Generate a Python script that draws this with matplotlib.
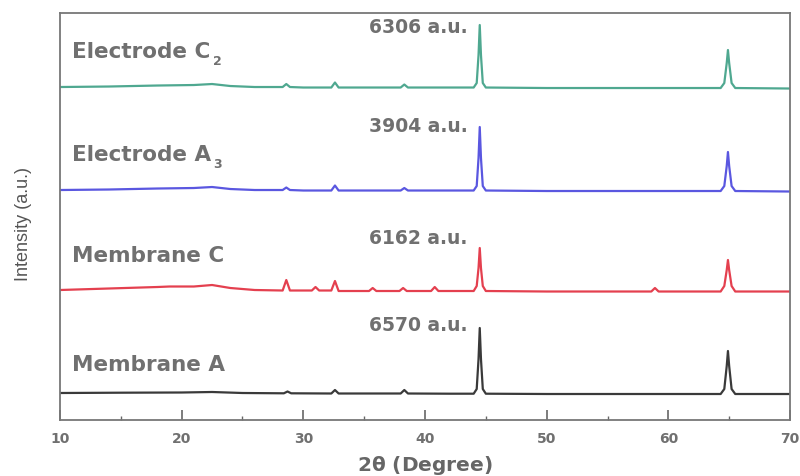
import matplotlib
matplotlib.use('Agg')
import matplotlib.pyplot as plt
from matplotlib.ticker import MultipleLocator

# XRD traces, intensity above each trace's own baseline (arbitrary units)
x_c2 = [10, 14, 18, 21, 22.5, 24, 26, 28.3, 28.6, 28.9, 30, 32.3, 32.6, 32.9, 35,
        38.0, 38.3, 38.6, 42, 44.0, 44.25, 44.4, 44.5, 44.6, 44.75, 45.0, 50, 55,
        60, 64.3, 64.6, 64.8, 64.9, 65.0, 65.2, 65.5, 70]
y_c2 = [0, 0.5, 1.5, 2, 3, 1, 0, 0, 3, 0, -0.5, -0.5, 4.5, -0.5, -0.5,
        -0.5, 2.5, -0.5, -0.5, -0.5, 4, 32, 62, 32, 4, -0.5, -1, -1,
        -1, -1, 4, 24, 37, 24, 4, -1, -1.5]

x_a3 = [10, 14, 18, 21, 22.5, 24, 26, 28.3, 28.6, 28.9, 30, 32.3, 32.6, 32.9, 35,
        38.0, 38.3, 38.6, 42, 44.0, 44.25, 44.4, 44.5, 44.6, 44.75, 45.0, 50, 55,
        60, 64.3, 64.6, 64.8, 64.9, 65.0, 65.2, 65.5, 70]
y_a3 = [0, 0.5, 1.5, 2, 3, 1, 0, 0, 2.5, 0, -0.5, -0.5, 4.5, -0.5, -0.5,
        -0.5, 2, -0.5, -0.5, -0.5, 4, 32, 63, 32, 4, -0.5, -1, -1,
        -1, -1, 4, 24, 38, 24, 4, -1, -1.5]

x_mc = [10, 14, 18, 19, 21, 22.5, 24, 26, 28.3, 28.6, 28.9, 30.7, 31.0, 31.3,
        32.3, 32.6, 32.9, 35.4, 35.7, 36.0, 37.9, 38.2, 38.5, 40.5, 40.8, 41.1,
        44.0, 44.25, 44.4, 44.5, 44.6, 44.75, 45.0, 50, 55, 58.6, 58.9, 59.2,
        64.3, 64.6, 64.8, 64.9, 65.0, 65.2, 65.5, 70]
y_mc = [0, 1.5, 3, 3.5, 3.5, 5, 2, 0, -0.5, 10, -0.5, -0.5, 3, -0.5,
        -0.5, 9, -1, -1, 2, -1, -1, 2, -1, -1, 3, -1,
        -1, 4, 22, 42, 22, 4, -1, -1.5, -1.5, -1.5, 2, -1.5,
        -1.5, 4, 20, 30, 20, 4, -1.5, -1.5]

x_ma = [10, 15, 20, 22.5, 25, 28.4, 28.7, 29.0, 32.3, 32.6, 32.9, 38.0, 38.3,
        38.6, 42, 44.0, 44.25, 44.4, 44.5, 44.6, 44.75, 45.0, 50, 55, 60,
        64.3, 64.6, 64.8, 64.9, 65.0, 65.2, 65.5, 70]
y_ma = [0, 0.3, 0.5, 1, 0, -0.3, 1.5, -0.3, -0.5, 3, -0.5, -0.5, 3,
        -0.5, -0.7, -0.7, 4, 34, 65, 34, 4, -0.7, -1, -1, -1,
        -1, 4, 27, 42, 27, 4, -1, -1]

names = [('Electrode C', '2'), ('Electrode A', '3'), ('Membrane C', ''), ('Membrane A', '')]
max_counts = ['6306 a.u.', '3904 a.u.', '6162 a.u.', '6570 a.u.']
offsets = [333, 230, 130, 27]
colors = ['#4fa890', '#5a57e0', '#e4404f', '#3a3a3a']

fig = plt.figure(figsize=(8, 4.77), dpi=100)
ax = fig.add_axes([0.075, 0.1174, 0.9125, 0.8532])

traces = [(x_c2, y_c2), (x_a3, y_a3), (x_mc, y_mc), (x_ma, y_ma)]
for (xs, ys), off, col in zip(traces, offsets, colors):
    ax.plot(xs, [v + off for v in ys], color=col, lw=1.6, solid_joinstyle='round')

ax.set_xlim(10, 70)
ax.set_ylim(0, 407)

# sample name labels and peak count labels
name_y = [369, 266, 165, 56]
count_y = [394, 295, 183, 96]
txt_col = '#707070'
fig.canvas.draw()
rend = fig.canvas.get_renderer()
for (nm, sub), ny, ct, cy in zip(names, name_y, max_counts, count_y):
    t = ax.text(11.0, ny, nm, fontsize=15.5, fontweight='bold', color=txt_col,
                ha='left', va='center')
    if sub:
        bb = t.get_window_extent(renderer=rend)
        x_end = ax.transData.inverted().transform((bb.x1 + 2, 0))[0]
        ax.text(x_end, ny - 9, sub, fontsize=9, fontweight='bold', color=txt_col,
                ha='left', va='center')
    ax.text(43.5, cy, ct, fontsize=13.5, fontweight='bold', color=txt_col,
            ha='right', va='center')

ax.set_yticks([])
ax.xaxis.set_major_locator(MultipleLocator(10))
ax.xaxis.set_minor_locator(MultipleLocator(5))
ax.tick_params(axis='x', which='major', direction='in', length=7, width=1.2,
               color='#666666', labelsize=10, labelcolor='#707070', pad=8)
ax.tick_params(axis='x', which='minor', direction='in', length=3, width=1.0,
               color='#666666')
for lab in ax.get_xticklabels():
    lab.set_fontweight('bold')
for sp in ax.spines.values():
    sp.set_color('#777777')
    sp.set_linewidth(1.3)

ax.set_xlabel(r'2$\mathbf{\theta}$ (Degree)', fontsize=14.5, fontweight='bold',
              color='#666666')
ax.xaxis.set_label_coords(0.5, -0.08)
ax.set_ylabel('Intensity (a.u.)', fontsize=13, color='#555555',
              family='Liberation Sans')
ax.yaxis.set_label_coords(-0.038, 0.485)

fig.savefig('out.png', dpi=100)
